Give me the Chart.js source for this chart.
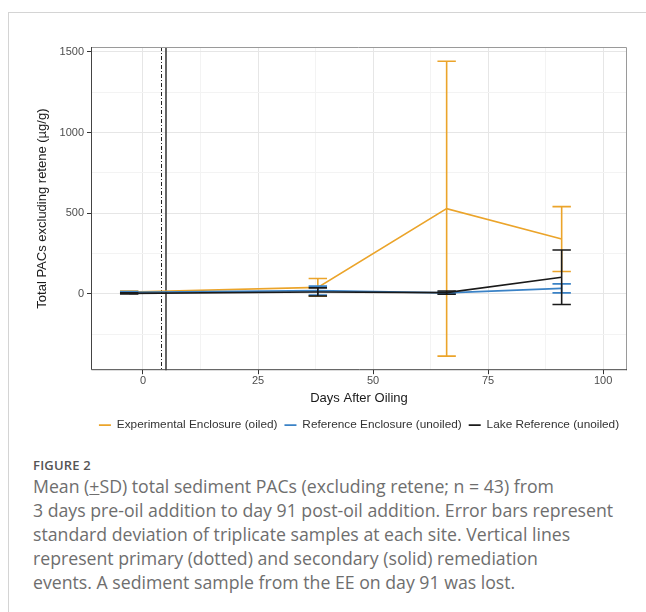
<!DOCTYPE html>
<html>
<head>
<meta charset="utf-8">
<title>Sediment PACs</title>
<script src="https://cdn.jsdelivr.net/npm/chart.js@4.4.1/dist/chart.umd.min.js"></script>
<style>
  html, body { margin: 0; padding: 0; background: #fff; overflow: hidden; }
  .card { position: absolute; left: 8px; top: 12px; width: 700px; height: 700px;
          border-top: 1px solid #d4d4d4; border-left: 1px solid #d4d4d4; }
  .chart-box { position: absolute; left: 0; top: 0; width: 646px; height: 442px; }
  .caption { position: absolute; left: 33px; top: 456px; font-family: "Open Sans", sans-serif; color: #6e6e6e; }
  .caption .fig { font-size: 13px; font-weight: 600; color: #555; letter-spacing: 0.2px; line-height: 18px; }
  .caption p { margin: 0; font-size: 17.7px; line-height: 24px; white-space: nowrap; }
</style>
</head>
<body>
<div class="card"></div>
<div class="chart-box"><canvas id="pacChart"></canvas></div>
<div class="caption">
  <div class="fig">FIGURE 2</div>
  <p>Mean (<u>+</u>SD) total sediment PACs (excluding retene; n = 43) from<br>
  3 days pre-oil addition to day 91 post-oil addition. Error bars represent<br>
  standard deviation of triplicate samples at each site. Vertical lines<br>
  represent primary (dotted) and secondary (solid) remediation<br>
  events. A sediment sample from the EE on day 91 was lost.</p>
</div>
<script>
'use strict'

// sampling days and means / SDs per site
var days = [-3, 38, 66, 91];
var eeMean = [12, 40, 528, 340];
var eeSd = [6, 55, 914, 201];
var reMean = [10, 20, 6, 34];
var reSd = [5, 28, 5, 28];
var lrMean = [3, 12, 8, 103];
var lrSd = [4, 25, 10, 169];

// remediation events: primary (dotted) and secondary (solid)
var primaryDay = 4;
var secondaryDay = 5;

// axis ticks (minor ones only get a faint grid line)
var xTicks = [0, 25, 50, 75, 100];
var xMinor = [12.5, 37.5, 62.5, 87.5];
var yTicks = [0, 500, 1000, 1500];
var yMinor = [-250, 250, 750, 1250];

var ORANGE = '#eba42a';
var BLUE = '#3a82c6';
var BLACK = '#1a1a1a';

function toPoints(mean) {
	return days.map(function(d, i) { return { x: d, y: mean[i] }; });
}

function setTicks(major, minor) {
	return function(scale) {
		scale.ticks = major.concat(minor).sort(function(a, b) { return a - b; })
			.map(function(v) { return { value: v }; });
	};
}

function gridOpts(major) {
	return {
		color: function(ctx) { return major.indexOf(ctx.tick.value) > -1 ? '#e6e6e6' : '#f3f3f3'; },
		lineWidth: 1,
		tickLength: 4,
		tickColor: function(ctx) { return major.indexOf(ctx.tick.value) > -1 ? '#333' : 'rgba(0,0,0,0)'; },
		drawOnChartArea: true
	};
}

// error bars with caps, drawn right after their own line
var errorBars = {
	id: 'errorBars',
	afterDatasetDraw: function(chart, args) {
		var ds = chart.data.datasets[args.index];
		if (!ds.sd) return;
		var ctx = chart.ctx, xs = chart.scales.x, ys = chart.scales.y;
		ctx.save();
		ctx.strokeStyle = ds.borderColor;
		ctx.lineWidth = 1.6;
		days.forEach(function(d, i) {
			var x = xs.getPixelForValue(d);
			var x0 = xs.getPixelForValue(d - 2), x1 = xs.getPixelForValue(d + 2);
			var yt = ys.getPixelForValue(ds.mean[i] + ds.sd[i]);
			var yb = ys.getPixelForValue(ds.mean[i] - ds.sd[i]);
			ctx.beginPath();
			ctx.moveTo(x, yt); ctx.lineTo(x, yb);
			ctx.moveTo(x0, yt); ctx.lineTo(x1, yt);
			ctx.moveTo(x0, yb); ctx.lineTo(x1, yb);
			ctx.stroke();
		});
		ctx.restore();
	}
};

// vertical remediation lines under the data, panel border on top
var panelExtras = {
	id: 'panelExtras',
	beforeDatasetsDraw: function(chart) {
		var ctx = chart.ctx, a = chart.chartArea, xs = chart.scales.x;
		ctx.save();
		var xp = Math.round(xs.getPixelForValue(primaryDay)) + 0.5;
		ctx.strokeStyle = '#222';
		ctx.lineWidth = 1;
		ctx.setLineDash([4, 2, 1, 2]);
		ctx.beginPath(); ctx.moveTo(xp, a.top); ctx.lineTo(xp, a.bottom); ctx.stroke();
		var xs2 = xs.getPixelForValue(secondaryDay);
		ctx.setLineDash([]);
		ctx.strokeStyle = '#333';
		ctx.lineWidth = 1.5;
		ctx.beginPath(); ctx.moveTo(xs2, a.top); ctx.lineTo(xs2, a.bottom); ctx.stroke();
		ctx.restore();
	},
	afterDatasetsDraw: function(chart) {
		var ctx = chart.ctx, a = chart.chartArea;
		ctx.save();
		ctx.strokeStyle = '#9a9a9a';
		ctx.lineWidth = 1;
		ctx.beginPath();
		ctx.moveTo(a.left, a.top + 0.5); ctx.lineTo(a.right - 0.5, a.top + 0.5); ctx.lineTo(a.right - 0.5, a.bottom);
		ctx.stroke();
		ctx.strokeStyle = '#444';
		ctx.beginPath();
		ctx.moveTo(a.left + 0.5, a.top); ctx.lineTo(a.left + 0.5, a.bottom - 0.5); ctx.lineTo(a.right, a.bottom - 0.5);
		ctx.stroke();
		ctx.restore();
	}
};

Chart.defaults.font.family = "'Liberation Sans', Arial, sans-serif";
Chart.defaults.color = '#4d4d4d';

var chart = new Chart(document.getElementById('pacChart'), {
	type: 'line',
	data: {
		datasets: [{
			label: 'Experimental Enclosure (oiled)',
			data: toPoints(eeMean), mean: eeMean, sd: eeSd,
			borderColor: ORANGE, backgroundColor: ORANGE, order: 3
		}, {
			label: 'Reference Enclosure (unoiled)',
			data: toPoints(reMean), mean: reMean, sd: reSd,
			borderColor: BLUE, backgroundColor: BLUE, order: 2
		}, {
			label: 'Lake Reference (unoiled)',
			data: toPoints(lrMean), mean: lrMean, sd: lrSd,
			borderColor: BLACK, backgroundColor: BLACK, order: 1
		}]
	},
	options: {
		responsive: true,
		maintainAspectRatio: false,
		animation: false,
		elements: {
			line: { borderWidth: 1.6, tension: 0 },
			point: { radius: 0, hoverRadius: 0 }
		},
		layout: { padding: { top: 47, right: 19, left: 0, bottom: 1 } },
		plugins: {
			tooltip: { enabled: false },
			legend: {
				position: 'bottom',
				fullSize: false,
				labels: {
					boxWidth: 12,
					boxHeight: 1.6,
					padding: 7,
					color: '#333',
					font: { size: 11.8 },
					sort: function(a, b) { return a.datasetIndex - b.datasetIndex; },
					generateLabels: function(chart) {
						// thin dash keys instead of filled boxes
						return Chart.defaults.plugins.legend.labels.generateLabels(chart).map(function(item) {
							item.lineWidth = 0;
							return item;
						});
					}
				}
			}
		},
		scales: {
			x: {
				type: 'linear',
				min: -11.3,
				max: 105.2,
				afterBuildTicks: setTicks(xTicks, xMinor),
				afterFit: function(scale) { scale.height = 42; },
				grid: gridOpts(xTicks),
				border: { display: false },
				ticks: {
					autoSkip: false, maxRotation: 0, padding: 0,
					font: { size: 11 },
					callback: function(v) { return xTicks.indexOf(v) > -1 ? String(v) : ''; }
				},
				title: {
					display: true, text: 'Days After Oiling',
					color: '#1a1a1a', font: { size: 13 },
					padding: { top: 0, bottom: 6 }
				}
			},
			y: {
				type: 'linear',
				min: -473,
				max: 1530,
				afterBuildTicks: setTicks(yTicks, yMinor),
				afterFit: function(scale) { scale.width = 91; },
				grid: gridOpts(yTicks),
				border: { display: false },
				ticks: {
					autoSkip: false, padding: 3,
					font: { size: 11 },
					callback: function(v) { return yTicks.indexOf(v) > -1 ? String(v) : ''; }
				},
				title: {
					display: true, text: 'Total PACs excluding retene (µg/g)',
					color: '#1a1a1a', font: { size: 13 },
					padding: { top: 35, bottom: 0 }
				}
			}
		}
	},
	plugins: [errorBars, panelExtras]
});
</script>
</body>
</html>
